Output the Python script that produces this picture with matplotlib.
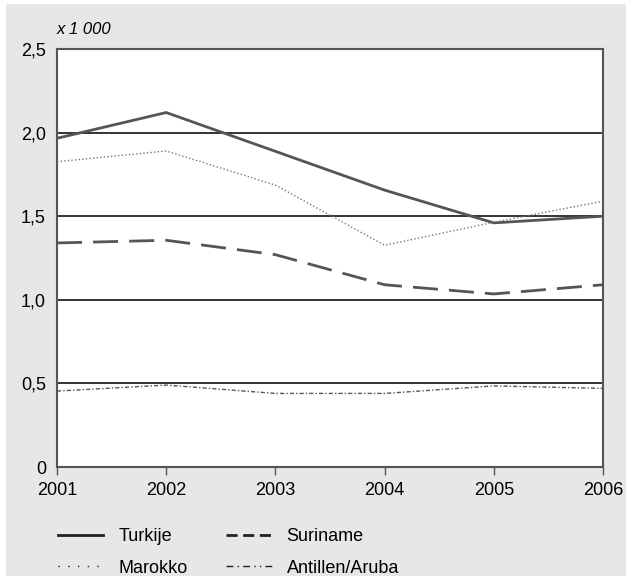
import matplotlib.pyplot as plt
from matplotlib.patches import Rectangle
from matplotlib.lines import Line2D

plt.rcParams['font.family'] = ['Liberation Sans', 'DejaVu Sans']

years = [2001, 2002, 2003, 2004, 2005, 2006]
turkije = [1.966, 2.12, 1.888, 1.656, 1.46, 1.50]
marokko = [1.826, 1.89, 1.686, 1.326, 1.464, 1.59]
suriname = [1.34, 1.356, 1.27, 1.09, 1.035, 1.09]
antillen = [0.454, 0.49, 0.44, 0.44, 0.485, 0.47]
yticks = [0, 0.5, 1.0, 1.5, 2.0, 2.5]
ytick_labels = ['0', '0,5', '1,0', '1,5', '2,0', '2,5']

bg = '#e6e7e8'
line_col = '#555555'

fig = plt.figure(figsize=(6.26, 5.76), dpi=100)
fig.patch.set_facecolor('white')
# grey panel, white strip along top and left edge
fig.patches.append(Rectangle((6 / 626, 0), 1, 572 / 576, transform=fig.transFigure,
                             facecolor=bg, edgecolor='none', zorder=-5))

# cut-off title at the very top, only the descenders show
fig.text(500 / 626, 1 + 6 / 576, 'Jongeren naar herkomstgroep,', ha='right', va='baseline',
         fontsize=13, fontweight='bold', color='#222222')

ax = fig.add_axes([57 / 626, 109 / 576, 546 / 626, 418 / 576])
ax.set_facecolor('white')

for y in yticks[1:-1]:
    ax.axhline(y, color='#333333', lw=1.4, zorder=1)

l1, = ax.plot(years, turkije, color=line_col, lw=2, zorder=3)
l2, = ax.plot(years, marokko, color='#777777', lw=1, dashes=(1, 1.6), zorder=3)
l3, = ax.plot(years, suriname, color=line_col, lw=2, dashes=(9, 4), zorder=3)
l4, = ax.plot(years, antillen, color='#555555', lw=1, dashes=(3, 1.5, 1, 1.5), zorder=3)

ax.set_xlim(2001, 2006)
ax.set_ylim(0, 2.5)
ax.set_xticks(years)
ax.set_xticklabels([str(y) for y in years], fontsize=13)
ax.set_yticks(yticks)
ax.set_yticklabels(ytick_labels, fontsize=13)
ax.tick_params(axis='x', direction='out', length=6, width=1, color=line_col, pad=5)
ax.tick_params(axis='y', length=0, pad=8)
for s in ax.spines.values():
    s.set_color(line_col)
    s.set_linewidth(1.5)

fig.text(57 / 626, 1 - 30 / 576, 'x 1 000', fontsize=12, style='italic', va='center')

h1 = Line2D([], [], color='#222222', lw=2)
h2 = Line2D([], [], color='#222222', lw=1, dashes=(1, 6))
h3 = Line2D([], [], color='#222222', lw=2, dashes=(4, 2))
h4 = Line2D([], [], color='#222222', lw=1, dashes=(5, 3, 1, 3, 5, 3, 1, 3, 1, 3))
fig.legend([h1, h2, h3, h4], ['Turkije', 'Marokko', 'Suriname', 'Antillen/Aruba'],
           ncol=2, frameon=False, fontsize=13, loc='lower left',
           bbox_to_anchor=(42 / 626, -17 / 576), handlelength=2.5, handletextpad=0.83,
           columnspacing=2.15, labelspacing=0.8)

fig.savefig('out.png', dpi=100, facecolor=fig.get_facecolor())
